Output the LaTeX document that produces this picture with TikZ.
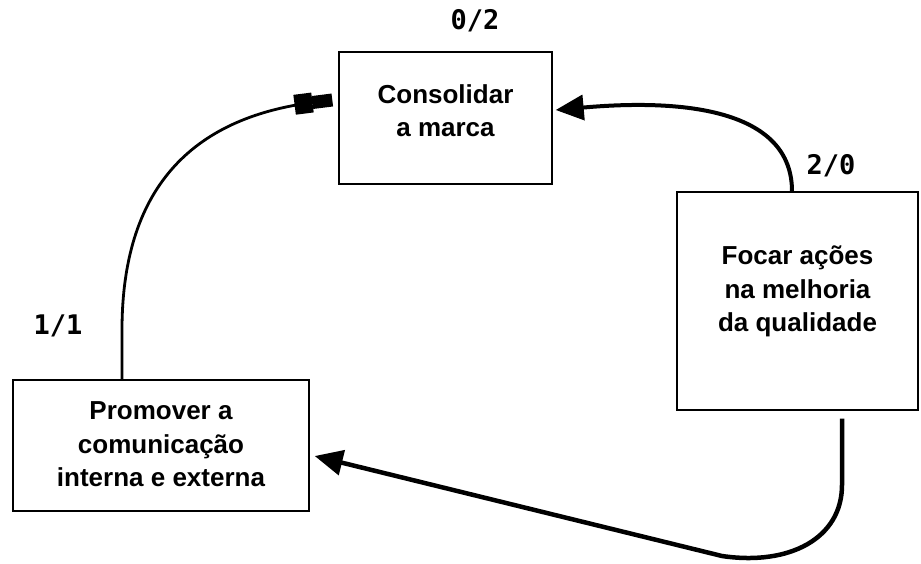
\documentclass[tikz,border=0pt]{standalone}
\usepackage{fontspec}
\setmainfont{Liberation Sans}
\newfontfamily\labelfont{DejaVu Sans Mono}
\usetikzlibrary{arrows.meta}
% extra depth under the last line lifts a box's text a little
\newcommand\liftby[1]{\rule[-#1]{0pt}{0pt}}
\begin{document}
\begin{tikzpicture}[x=1pt,y=-1pt,
  goal/.style={draw, line width=1.4pt, align=center, inner sep=0pt,
    font=\fontsize{26}{33.5}\selectfont\bfseries},
  score/.style={font=\labelfont\fontsize{27}{30}\selectfont\bfseries, inner sep=0pt},
  link/.style={line width=4pt, -{Triangle[length=28pt,width=25pt]}}
]
\useasboundingbox (0,0) rectangle (921,563);

% objectives
\node[goal, minimum width=213pt, minimum height=132pt] (cons) at (445.5,118)
  {Consolidar\\a marca\liftby{15pt}};
\node[goal, minimum width=241pt, minimum height=218pt] (foc) at (797.5,301)
  {Focar ações\\na melhoria\\da qualidade\liftby{24pt}};
\node[goal, minimum width=296pt, minimum height=131pt] (prom) at (161,445.5)
  {Promover a\\comunicação\\interna e externa\liftby{2pt}};

% in/out counts
\node[score] (s02) at (475,21) {0/2};
\node[score] (s20) at (831,166) {2/0};
\node[score] (s11) at (58,326) {1/1};

% links between objectives
\draw[line width=2.8pt, -{Rectangle[length=18pt,width=20pt] Rectangle[length=20pt,width=13pt]}]
  ([xshift=-39pt]prom.north) -- (122,330)
  .. controls (122,190) and (190,118) .. ([xshift=-6pt,yshift=18pt]cons.west);
\draw[link]
  ([xshift=-5.5pt]foc.north)
  .. controls (792,112) and (690,98) .. ([xshift=3pt,yshift=8pt]cons.east);
\draw[link, line width=4.5pt]
  ([xshift=44.5pt,yshift=-8pt]foc.south) -- (842,485)
  .. controls (842,538) and (790,566) .. (722,556)
  -- ([xshift=5pt,yshift=-10.5pt]prom.east);
\end{tikzpicture}
\end{document}
